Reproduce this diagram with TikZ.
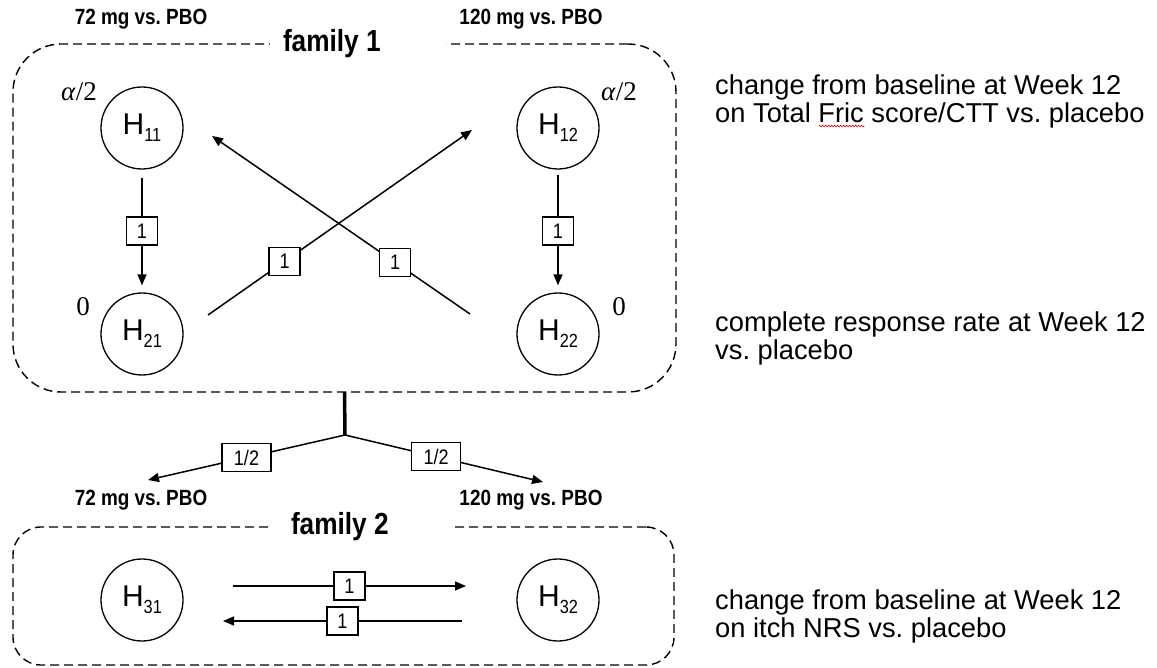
\documentclass[tikz,border=0pt]{standalone}
\usepackage{fontspec}
\setmainfont{Liberation Sans}
\newfontfamily\wtfont{Liberation Serif}
\newfontfamily\narrowfont[FakeStretch=0.86]{Liberation Sans}
\usetikzlibrary{arrows.meta,decorations.pathmorphing}
\newcommand{\hsub}[1]{H\raisebox{-7pt}{\narrowfont\fontsize{19}{19}\selectfont #1}}
\frenchspacing
\begin{document}
\begin{tikzpicture}[x=1pt,y=-1pt,
  hyp/.style={draw, circle, line width=1.3pt, minimum size=82pt, inner sep=0pt, font=\fontsize{30}{30}\selectfont},
  wbox/.style={draw, fill=white, line width=1.2pt, minimum width=31pt, minimum height=28pt, inner sep=0pt, font=\narrowfont\fontsize{21}{21}\selectfont},
  hbox/.style={wbox, minimum width=49pt},
  conn/.style={line width=1.5pt},
  arr/.style={conn, -{Triangle[length=11pt,width=9pt]}},
  fambox/.style={draw, dash pattern=on 9pt off 5pt, line width=1.4pt, inner sep=0pt, outer sep=0pt},
  dose/.style={font=\narrowfont\bfseries\fontsize{22}{22}\selectfont, inner sep=0pt},
  famlab/.style={font=\narrowfont\bfseries\fontsize{30.5}{30.5}\selectfont, fill=white, inner sep=0pt, minimum height=22pt},
  wt/.style={font=\wtfont\fontsize{27}{27}\selectfont, inner sep=0pt},
  desc/.style={align=left, anchor=west, font=\fontsize{27.3}{28}\selectfont, inner sep=0pt},
]
\useasboundingbox[fill=white] (0,0) rectangle (1157,668);

% family boxes
\node[fambox, rounded corners=48pt, minimum width=663pt, minimum height=348pt] (F1) at (344.5,218) {};
\node[fambox, rounded corners=28pt, minimum width=661pt, minimum height=138pt] (F2) at (343.5,596) {};
\node[famlab] (fam1) at (358,44) {\makebox[176pt][l]{\hspace{13pt}family 1}};
\node[famlab] (fam2) at (360,527) {\makebox[182pt][l]{\hspace{22pt}family 2}};

% dose labels
\node[dose] (d72a) at (141,19) {72 mg vs. PBO};
\node[dose] (d120a) at (531,19) {120 mg vs. PBO};
\node[dose] (d72b) at (141,500) {72 mg vs. PBO};
\node[dose] (d120b) at (531,500) {120 mg vs. PBO};

% hypotheses
\node[hyp] (H11) at (142,128) {\hsub{11}};
\node[hyp] (H12) at (558,128) {\hsub{12}};
\node[hyp] (H21) at (142,334) {\hsub{21}};
\node[hyp] (H22) at (558,334) {\hsub{22}};
\node[hyp] (H31) at (142,600) {\hsub{31}};
\node[hyp] (H32) at (558,600) {\hsub{32}};

% weights
\node[wt] (w11) at (79,92) {\textit{α}/2};
\node[wt] (w12) at (619,92) {\textit{α}/2};
\node[wt] (w21) at (83,307) {0};
\node[wt] (w22) at (619,307) {0};

% vertical arrows
\draw[arr, shorten <=8pt, shorten >=7pt] (H11) -- node[wbox] (b1) {1} (H21);
\draw[arr, shorten <=5pt, shorten >=7pt] (H12) -- node[wbox] (b2) {1} (H22);

% crossing arrows
\coordinate (c21) at (208,315);
\coordinate (c12) at (472,130);
\coordinate (c22) at (470,314);
\coordinate (c11) at (212,136);
\draw[arr] (c21) -- node[wbox, pos=0.29] (b3) {1} (c12);
\draw[arr] (c22) -- node[wbox, pos=0.29] (b4) {1} (c11);

% split to family 2
\coordinate (j) at (345,435);
\coordinate (t72) at (148,480);
\coordinate (t120) at (543,482);
\draw[line width=3.5pt] (F1.south) -- (j);
\draw[arr] (j) -- node[hbox] (b5) {1/2} (t72);
\draw[arr] (j) -- node[hbox, pos=0.46] (b6) {1/2} (t120);

% family 2 arrows
\coordinate (a1s) at (233,586);
\coordinate (a1e) at (466,586);
\coordinate (a2s) at (462,621);
\coordinate (a2e) at (223,621);
\draw[arr] (a1s) -- node[wbox] (b7) {1} (a1e);
\draw[arr] (a2s) -- node[wbox] (b8) {1} (a2e);

% descriptions
\node[desc] (t1) at (715,101) {change from baseline at Week 12\\on Total \rlap{\tikz[baseline=0pt]\draw[red!80!black, line width=0.6pt, decorate, decoration={snake, amplitude=0.9pt, segment length=3pt}] (0pt,-4pt) -- (46pt,-4pt);}Fric score/CTT vs. placebo};
\node[desc] (t2) at (715,338) {complete response rate at Week 12\\vs. placebo};
\node[desc] (t3) at (715,616) {change from baseline at Week 12\\on itch NRS vs. placebo};
\end{tikzpicture}
\end{document}
